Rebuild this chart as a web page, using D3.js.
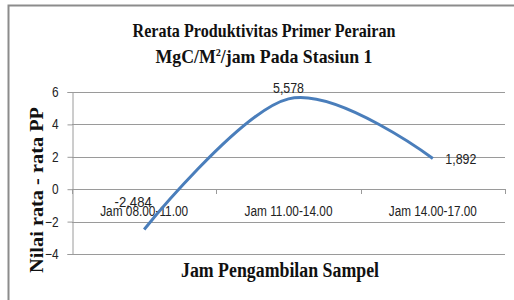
<!DOCTYPE html>
<html>
<head>
<meta charset="utf-8">
<script src="https://cdn.jsdelivr.net/npm/d3@7"></script>
<style>
  body { margin: 0; background: #fff; }
  .tick text, .lbl { font-family: "Liberation Sans", Arial, sans-serif; font-size: 14px; fill: #222; }
  .ttl { font-family: "Liberation Serif", "Times New Roman", serif; font-weight: bold; fill: #111; }
</style>
</head>
<body>
<div class="content"></div>
<script>
var categories = ["Jam 08.00-11.00", "Jam 11.00-14.00", "Jam 14.00-17.00"];
var values = [-2.484, 5.578, 1.892];
var valueLabels = ["-2,484", "5,578", "1,892"];
var yTicks = [-4, -2, 0, 2, 4, 6];

var svg = d3.select(".content")
  .append("svg")
  .attr("width", 514)
  .attr("height", 300)

// outer frame
svg.append("rect")
  .attr("x", 8.5).attr("y", 5.5)
  .attr("width", 520).attr("height", 310)
  .attr("fill", "none")
  .attr("stroke", "#8c8c8c")
  .attr("stroke-width", 2)

var x = d3.scaleBand().domain(categories).range([72, 505])
var y = d3.scaleLinear().domain([-4, 6]).range([254, 92])

// gridlines
svg.append("g")
  .selectAll("line")
  .data(yTicks)
  .enter()
  .append("line")
  .attr("x1", 72).attr("x2", 505)
  .attr("y1", function(d) { return Math.round(y(d)) + 0.5 })
  .attr("y2", function(d) { return Math.round(y(d)) + 0.5 })
  .attr("stroke", "#9a9a9a")
  .attr("stroke-width", 1)

// y axis
var yAxis = svg.append("g")
  .attr("transform", "translate(72.5,0)")
  .call(d3.axisLeft(y).tickValues(yTicks).tickSize(5).tickPadding(9).tickFormat(d3.format("d")))
yAxis.select(".domain").attr("stroke", "#9a9a9a")
yAxis.selectAll(".tick line").attr("stroke", "#9a9a9a")
yAxis.selectAll(".tick text").attr("transform", "scale(0.85,1)").attr("x", -14 / 0.85)

// category axis along zero
var bounds = categories.map(function(c) { return x(c) }).concat([505])
svg.append("g")
  .selectAll("line")
  .data(bounds)
  .enter()
  .append("line")
  .attr("x1", function(d) { return Math.round(d) + 0.5 })
  .attr("x2", function(d) { return Math.round(d) + 0.5 })
  .attr("y1", Math.round(y(0)))
  .attr("y2", Math.round(y(0)) + 5)
  .attr("stroke", "#9a9a9a")

svg.append("g")
  .selectAll("text")
  .data(categories)
  .enter()
  .append("text")
  .attr("class", "lbl")
  .attr("x", function(d) { return x(d) + x.bandwidth() / 2 })
  .attr("y", y(0) + 27)
  .attr("text-anchor", "middle")
  .attr("textLength", 88).attr("lengthAdjust", "spacingAndGlyphs")
  .text(function(d) { return d })

// smoothed line
var line = d3.line()
  .x(function(d, i) { return x(categories[i]) + x.bandwidth() / 2 })
  .y(function(d) { return y(d) })
  .curve(d3.curveCardinal.tension(0))

svg.append("path")
  .datum(values)
  .attr("d", line)
  .attr("fill", "none")
  .attr("stroke", "#4a7ebb")
  .attr("stroke-width", 3)

// value labels
var lblPos = [[-11, -22], [0, -6], [28, 5]]
svg.append("g")
  .selectAll("text")
  .data(values)
  .enter()
  .append("text")
  .attr("class", "lbl")
  .attr("x", function(d, i) { return x(categories[i]) + x.bandwidth() / 2 + lblPos[i][0] })
  .attr("y", function(d, i) { return y(d) + lblPos[i][1] })
  .attr("text-anchor", "middle")
  .attr("textLength", function(d, i) { return valueLabels[i].length * 6.2 })
  .attr("lengthAdjust", "spacingAndGlyphs")
  .text(function(d, i) { return valueLabels[i] })

// titles
svg.append("text").attr("class", "ttl")
  .attr("x", 264).attr("y", 37)
  .attr("text-anchor", "middle")
  .style("font-size", "19px")
  .attr("textLength", 263).attr("lengthAdjust", "spacingAndGlyphs")
  .text("Rerata Produktivitas Primer Perairan")

var t2 = svg.append("text").attr("class", "ttl")
  .attr("x", 264).attr("y", 63)
  .attr("text-anchor", "middle")
  .style("font-size", "19px")
  .attr("textLength", 217).attr("lengthAdjust", "spacingAndGlyphs")
t2.append("tspan").text("MgC/M")
t2.append("tspan").attr("dy", -7).style("font-size", "11px").text("2")
t2.append("tspan").attr("dy", 7).text("/jam  Pada Stasiun 1")

svg.append("text").attr("class", "ttl")
  .attr("transform", "translate(43,190) rotate(-90)")
  .attr("text-anchor", "middle")
  .style("font-size", "19px")
  .attr("textLength", 166).attr("lengthAdjust", "spacingAndGlyphs")
  .text("Nilai rata - rata PP")

svg.append("text").attr("class", "ttl")
  .attr("x", 280).attr("y", 277)
  .attr("text-anchor", "middle")
  .style("font-size", "20px")
  .attr("textLength", 198).attr("lengthAdjust", "spacingAndGlyphs")
  .text("Jam Pengambilan Sampel")
</script>
</body>
</html>
